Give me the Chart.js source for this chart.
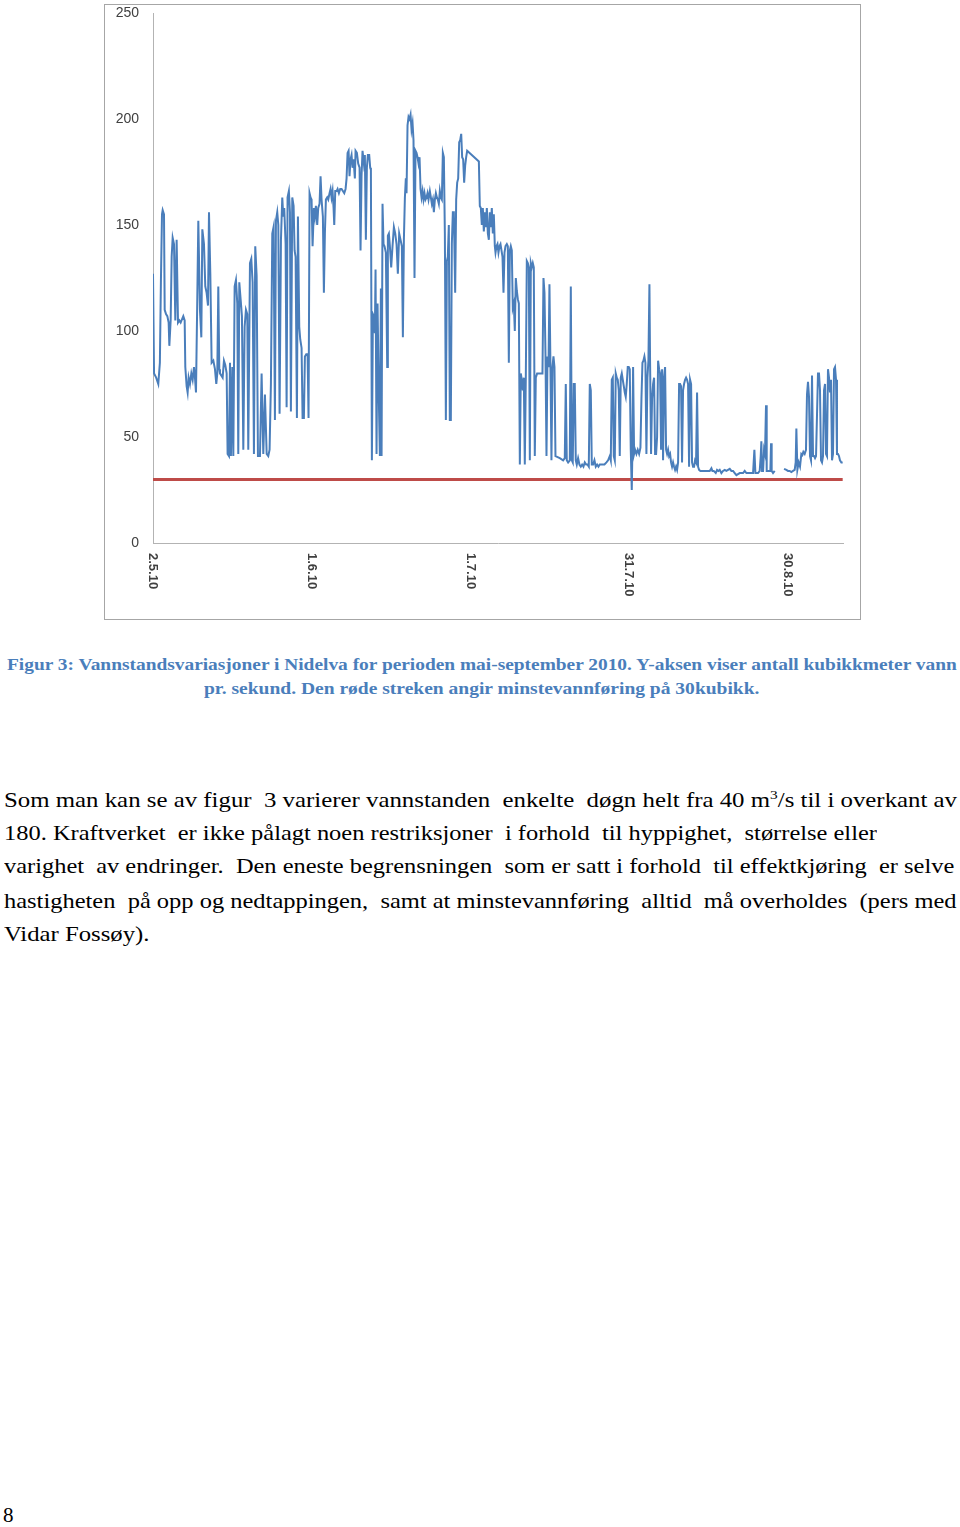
<!DOCTYPE html>
<html>
<head>
<meta charset="utf-8">
<script src="https://cdn.jsdelivr.net/npm/chart.js@4"></script>
<style>
  body { margin: 0; background: #fff; width: 960px; height: 1527px; position: relative; font-family: "Liberation Serif", serif; overflow: hidden; }
  #frame { position: absolute; left: 104px; top: 4px; width: 755px; height: 614px; border: 1px solid #a6a6a6; }
  .cap { position: absolute; font-weight: bold; font-size: 16px; line-height: 20px; color: #4a7ebb; white-space: nowrap; transform-origin: 0 0; }
  .txt { position: absolute; font-size: 21px; line-height: 24px; color: #000; white-space: nowrap; transform-origin: 0 0; }
  sup { font-size: 13px; line-height: 0; }
</style>
</head>
<body>
<div id="frame"><canvas id="chart1" width="755" height="614"></canvas></div>

<div class="cap" data-w="950" style="left:7px; top:655px;">Figur 3: Vannstandsvariasjoner i Nidelva for perioden mai-september 2010. Y-aksen viser antall kubikkmeter vann</div>
<div class="cap" data-w="555" style="left:204px; top:679px;">pr. sekund. Den røde streken angir minstevannføring på 30kubikk.</div>

<div class="txt" data-w="953" style="left:4px; top:788px;">Som man kan se av figur &nbsp;3 varierer vannstanden &nbsp;enkelte &nbsp;døgn helt fra 40 m<sup>3</sup>/s til i overkant av</div>
<div class="txt" data-w="873" style="left:4px; top:821px;">180. Kraftverket &nbsp;er ikke pålagt noen restriksjoner &nbsp;i forhold &nbsp;til hyppighet, &nbsp;størrelse eller</div>
<div class="txt" data-w="950" style="left:4px; top:854px;">varighet &nbsp;av endringer. &nbsp;Den eneste begrensningen &nbsp;som er satt i forhold &nbsp;til effektkjøring &nbsp;er selve</div>
<div class="txt" data-w="953" style="left:4px; top:889px;">hastigheten &nbsp;på opp og nedtappingen, &nbsp;samt at minstevannføring &nbsp;alltid &nbsp;må overholdes &nbsp;(pers med</div>
<div class="txt" data-w="146" style="left:4px; top:922px;">Vidar Fossøy).</div>

<div class="txt" style="top:1503px; left:3px;">8</div>

<script>
// Vannføring (m3/s), [dager etter 2.5.10, verdi]
const mayReadings = [
  [0,127],[0.2,80],[0.6,78],[1.0,75],[1.3,85],[1.5,124],[1.7,155],[1.83,157],[2.08,155],[2.21,110],
  [2.46,108],[2.71,107],[2.96,104],[3.09,93],[3.34,105],[3.53,135],[3.72,144],[3.97,141],[4.22,105],[4.47,143],
  [4.73,104],[4.98,105],[5.23,104],[5.73,107],[5.99,105],[6.11,83],[6.36,74],[6.55,71],[6.74,78],[6.99,75],
  [7.25,80],[7.5,77],[7.75,83],[7.94,78],[8.13,71],[8.38,116],[8.57,152],[8.88,110],[9.14,97],[9.33,148],
  [9.64,141],[9.89,121],[10.14,118],[10.4,112],[10.59,156],[10.84,127],[11.09,85],[11.41,86],[11.72,82],[11.97,75],
  [12.16,80],[12.35,121],[12.54,82],[12.67,80],[13.17,78],[13.42,86],[13.67,84],[13.93,80],[14.11,42],[14.37,41],
  [14.56,85],[14.74,41],[15.0,83],[15.19,41],[15.44,121],[15.69,124],[15.94,113],[16.13,42],[16.32,123],[16.57,115],
  [16.82,107],[17.08,44],[17.33,102],[17.58,110],[17.83,108],[18.02,44],[18.34,132],[18.59,134],[18.84,123],[19.09,42],
  [19.34,140],[19.6,126],[19.85,41],[20.23,41],[20.54,80],[20.86,42],[21.17,70],[21.5,42],[21.8,41],[22.05,44],
  [22.3,75],[22.56,146],[22.8,149],[23.06,58],[23.25,152],[23.5,156],[23.7,150],[23.94,61],[24.2,143],[24.45,163],
  [24.64,154],[24.82,158],[25.08,141],[25.27,64],[25.45,163],[25.7,166],[25.9,156],[26.08,62],[26.34,163],[26.59,159],
  [26.78,138],[26.97,135],[27.22,59],[27.41,154],[27.66,102],[27.85,96],[28.1,92],[28.29,59],[28.54,59],[28.73,88],
  [28.98,89],[29.24,89],[29.42,59],[29.61,165],[29.8,163],[29.99,162]
];
const juneReadings = [
  [30.18,140],[30.43,158],[30.62,154],[30.81,159],[31.06,150],[31.25,158],[31.5,160],[31.69,173],[31.88,162],[32.13,154],
  [32.32,118],[32.51,146],[32.7,162],[32.95,163],[33.14,162],[33.39,165],[33.58,167],[33.77,163],[33.96,166],[34.15,158],
  [34.28,150],[34.47,166],[34.72,166],[34.91,167],[35.16,165],[35.41,167],[35.66,167],[35.91,166],[36.17,165],[36.42,167],
  [36.61,172],[36.8,184],[36.99,185],[37.17,173],[37.36,181],[37.55,183],[37.74,177],[37.93,181],[38.18,172],[38.31,185],
  [38.56,184],[38.81,179],[39.07,177],[39.25,138],[39.44,173],[39.63,185],[39.88,179],[40.07,183],[40.26,143],[40.45,177],
  [40.64,183],[40.89,183],[41.08,177],[41.21,176],[41.4,39],[41.59,108],[41.77,107],[41.96,99],[42.09,129],[42.28,42],
  [42.47,113],[42.72,67],[42.91,41],[43.1,120],[43.23,41],[43.41,160],[43.6,141],[43.79,140],[44.04,137],[44.3,83],
  [44.42,145],[44.61,146],[44.8,140],[45.05,130],[45.3,140],[45.56,149],[45.81,146],[46.06,141],[46.31,127],[46.56,146],
  [46.82,143],[47.07,140],[47.26,97],[47.45,143],[47.64,163],[47.82,172],[47.95,165],[48.14,197],[48.33,201],[48.52,200],
  [48.71,202],[48.9,195],[49.09,198],[49.27,190],[49.46,125],[49.65,185],[49.84,184],[50.03,182],[50.22,179],[50.41,182],
  [50.6,167],[50.79,163],[50.98,166],[51.16,162],[51.35,165],[51.54,162],[51.73,163],[51.92,165],[52.11,162],[52.36,166],
  [52.55,163],[52.74,160],[52.93,162],[53.12,156],[53.31,162],[53.5,165],[53.69,163],[53.87,162],[54.06,160],[54.25,166],
  [54.44,163],[54.63,162],[54.82,184],[55.01,182],[55.2,146],[55.39,58],[55.58,133],[55.76,135],[55.95,150],[56.14,58],
  [56.33,58],[56.52,141],[56.71,156],[56.9,156],[57.15,118],[57.34,162],[57.53,170],[57.72,172],[57.91,189],[58.1,190],
  [58.29,193],[58.47,182],[58.66,181],[58.85,170],[59.04,178],[59.23,182],[59.42,185]
];
const julyReadings = [
  [61.63,180],[61.81,159],[62.0,158],[62.19,150],[62.38,158],[62.57,147],[62.76,156],[62.95,149],[63.14,158],[63.33,146],
  [63.52,143],[63.7,156],[63.89,149],[64.08,158],[64.27,146],[64.46,155],[64.65,140],[64.78,137],[64.97,140],[65.15,141],
  [65.34,137],[65.53,140],[65.72,141],[65.91,138],[66.1,135],[66.29,118],[66.48,137],[66.67,140],[66.92,141],[67.11,140],
  [67.3,85],[67.49,138],[67.67,140],[67.86,138],[68.05,111],[68.24,113],[68.43,100],[68.62,125],[68.81,119],[69.0,115],
  [69.19,113],[69.38,37],[69.56,80],[69.75,77],[69.94,72],[70.13,78],[70.32,37],[70.51,78],[70.7,133],[70.89,132],
  [71.08,130],[71.27,39],[71.46,132],[71.64,130],[71.83,132],[72.02,130],[72.21,41],[72.4,78],[72.65,80],[73.66,80],
  [73.85,125],[74.04,118],[74.23,89],[74.42,41],[74.61,88],[74.8,83],[74.98,122],[75.17,83],[75.36,39],[75.55,83],
  [75.74,88],[75.93,83],[76.12,41],[76.94,40],[77.57,39],[77.88,40],[78.07,75],[78.26,39],[78.51,38],[78.83,39],
  [79.02,121],[79.21,39],[79.39,38],[79.58,75],[79.77,75],[79.96,39],[80.15,37],[80.4,40],[80.65,37],[80.91,36],
  [81.16,37],[81.41,36],[81.66,38],[81.92,37],[82.17,37],[82.42,36],[82.61,75],[82.8,72],[82.99,37],[83.24,37],
  [83.49,39],[83.74,36],[84.0,37],[84.25,36],[84.5,37],[84.81,37],[85.13,37],[85.38,37],[85.76,38],[86.07,39],
  [86.39,41],[86.58,39],[86.77,77],[86.96,78],[87.15,41],[87.34,39],[87.52,80],[87.71,78],[87.9,77],[88.09,72],
  [88.28,41],[88.47,78],[88.66,80],[88.85,77],[89.04,74],[89.23,71],[89.41,69],[89.6,75],[89.79,83],[89.98,83]
];
const augustReadings = [
  [90.17,82],[90.36,44],[90.55,25],[90.67,44],[90.8,83],[90.99,42],[91.18,44],[91.43,42],[91.68,44],[91.94,42],
  [92.19,45],[92.38,68],[92.57,85],[92.75,86],[92.94,88],[93.13,85],[93.32,42],[93.51,78],[93.7,86],[93.89,122],
  [94.01,86],[94.2,42],[94.39,68],[94.58,75],[94.77,78],[94.96,42],[95.15,42],[95.34,50],[95.53,86],[95.72,82],
  [95.9,80],[96.09,44],[96.28,82],[96.47,39],[96.66,78],[96.85,83],[97.04,44],[97.23,42],[97.42,44],[97.61,41],
  [97.8,42],[97.98,38],[98.17,36],[98.36,38],[98.55,36],[98.74,34.5],[98.93,36],[99.12,34.5],[99.31,38],[99.5,75],
  [99.69,75],[99.87,74],[100.06,38],[100.25,72],[100.44,75],[100.63,77],[100.82,78],[101.01,77],[101.2,75],[101.39,36],
  [101.58,77],[101.77,75],[101.95,38],[102.14,36],[102.33,36],[102.52,39],[102.71,38],[102.9,71],[103.09,36],[103.28,34.5],
  [103.53,34],[105.29,34],[105.61,35.3],[105.8,34],[106.05,34],[106.43,33],[106.68,34.5],[106.93,34],[107.18,34.5],[107.5,33],
  [107.81,34],[108.13,34.5],[108.44,34],[108.76,34.5],[109.08,35],[109.39,34],[109.71,34],[110.02,33],[110.34,32],[110.65,32.5],
  [110.97,33],[111.28,33],[111.6,33],[111.91,34],[112.23,33],[112.54,33],[113.49,33],[113.74,44],[113.93,33],[114.43,33],
  [114.75,34],[114.94,41],[115.06,48],[115.19,34],[115.38,34],[115.57,44],[115.75,42],[115.94,65],[116.07,34],[116.32,34],
  [116.57,34],[116.76,34],[116.89,47],[117.01,34],[117.27,33],[117.58,34],[118.5,null],[119.35,35],[119.79,34.5],[120.1,34],
  [120.42,34],[120.73,33.5],[121.05,34],[121.36,34.5],[121.55,38],[121.68,54],[121.87,34.5],[122.12,38],[122.37,36],[122.62,42],
  [122.81,41.5],[123.0,43],[123.25,42],[123.5,44],[123.69,70],[123.88,76],[124.07,69],[124.26,41],[124.45,39],[124.64,79],
  [124.83,41],[125.02,41],[125.21,40],[125.4,41],[125.58,41],[125.77,80],[125.96,80],[126.15,72],[126.34,39],[126.53,38],
  [126.72,41],[126.91,72],[127.1,75],[127.29,42],[127.47,41],[127.66,82],[127.85,78],[128.04,71],[128.23,77],[128.42,39],
  [128.61,42],[128.8,82],[128.99,83],[129.18,77],[129.36,42],[129.55,42],[129.74,41],[129.93,39],[130.19,38],[130.44,38]
];
const minFlow = 30;
const tickDays = [0, 30, 60, 90, 120];
const tickLabels = ['2.5.10', '1.6.10', '1.7.10', '31.7.10', '30.8.10'];
const yTicks = [0, 50, 100, 150, 200, 250];

// teksten i PDF-en er strukket på bredden, så hver linje skaleres til riktig bredde
document.querySelectorAll('[data-w]').forEach(el => {
  const k = Number(el.dataset.w) / el.scrollWidth;
  el.style.transform = 'scaleX(' + k + ')';
});

const readings = mayReadings.concat(juneReadings, julyReadings, augustReadings);
const lastDay = readings[readings.length - 1][0];

// datoetiketter, rotert som i Excel (leses ovenfra og ned)
const dateLabels = {
  id: 'dateLabels',
  afterDraw(chart) {
    const { ctx, scales: { x } } = chart;
    ctx.save();
    ctx.font = 'bold 13px "Liberation Sans", Arial, sans-serif';
    ctx.fillStyle = '#404040';
    ctx.textAlign = 'left';
    ctx.textBaseline = 'middle';
    tickDays.forEach((d, i) => {
      ctx.save();
      ctx.translate(x.getPixelForValue(d), x.top + 10);
      ctx.rotate(Math.PI / 2);
      ctx.fillText(tickLabels[i], 0, 0);
      ctx.restore();
    });
    ctx.restore();
  }
};

const ctx = document.getElementById('chart1').getContext('2d');
new Chart(ctx, {
  type: 'line',
  data: {
    datasets: [{
      label: 'Vannføring',
      data: readings.map(r => ({ x: r[0], y: r[1] })),
      borderColor: '#4a7ebb',
      borderWidth: 2,
      pointRadius: 0,
      tension: 0,
      spanGaps: false
    }, {
      label: 'Minstevannføring',
      data: [{ x: 0, y: minFlow }, { x: lastDay, y: minFlow }],
      borderColor: '#be4b48',
      borderWidth: 3,
      pointRadius: 0
    }]
  },
  options: {
    responsive: false,
    animation: false,
    layout: { padding: { left: 0, right: 17, top: 8, bottom: 0 } },
    plugins: { legend: { display: false }, tooltip: { enabled: false } },
    scales: {
      x: {
        type: 'linear',
        min: 0,
        max: 130.5,
        grid: { display: false, drawTicks: false },
        border: { display: true, color: '#b3b3b3', width: 1 },
        ticks: { display: false },
        afterFit: s => { s.height = 76; }
      },
      y: {
        min: 0,
        max: 250,
        grid: { display: false, drawTicks: false },
        border: { display: true, color: '#b3b3b3', width: 1 },
        afterBuildTicks: s => { s.ticks = yTicks.map(v => ({ value: v })); },
        ticks: {
          padding: 14,
          color: '#404040',
          font: { family: '"Liberation Sans", Arial, sans-serif', size: 14 }
        },
        afterFit: s => { s.width = 48; s.paddingTop = 0; s.paddingBottom = 0; }
      }
    }
  },
  plugins: [dateLabels]
});
</script>
</body>
</html>
